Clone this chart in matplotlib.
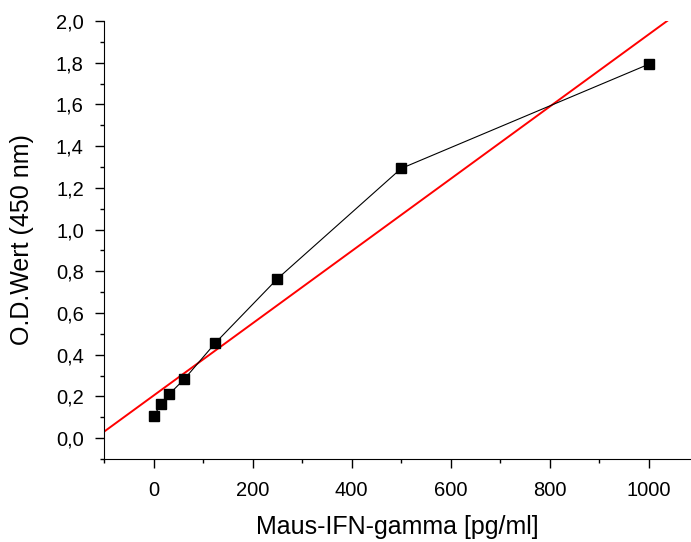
import numpy as np
import matplotlib.pyplot as plt
from matplotlib.ticker import MultipleLocator, FuncFormatter

conc = [0, 15.625, 31.25, 62.5, 125, 250, 500, 1000]
od = [0.106, 0.163, 0.21, 0.284, 0.457, 0.764, 1.293, 1.793]

plt.rcParams['font.family'] = ['Liberation Sans', 'DejaVu Sans']

fig = plt.figure(figsize=(6.91, 5.42), dpi=100)
ax = fig.add_axes([0.1505, 0.1531, 0.8495, 0.8082])

ax.plot(conc, od, color='black', linewidth=0.8, marker='s', markersize=6.5)

# linear fit over the whole range
slope, icpt = np.polyfit(conc, od, 1)
xfit = np.array([-100, 1100])
ax.plot(xfit, icpt + slope * xfit, color='red', linewidth=1.4, zorder=1)

ax.set_xlim(-100, 1085)
ax.set_ylim(-0.1, 2.0)

ax.xaxis.set_major_locator(MultipleLocator(200))
ax.xaxis.set_minor_locator(MultipleLocator(100))
ax.yaxis.set_major_locator(MultipleLocator(0.2))
ax.yaxis.set_minor_locator(MultipleLocator(0.1))
ax.yaxis.set_major_formatter(FuncFormatter(lambda v, p: f"{v:.1f}".replace('.', ',')))

ax.spines['top'].set_visible(False)
ax.spines['right'].set_visible(False)
ax.tick_params(which='major', direction='out', length=6.5, width=1, labelsize=14.5)
ax.tick_params(which='minor', direction='out', length=3.2, width=1)
ax.tick_params(axis='x', which='major', pad=9)
ax.tick_params(axis='y', which='major', pad=8)

ax.set_xlabel("Maus-IFN-gamma [pg/ml]", fontsize=18, labelpad=11)
ax.set_ylabel("O.D.Wert (450 nm)", fontsize=18, labelpad=16)

fig.savefig("out.png", dpi=100)
